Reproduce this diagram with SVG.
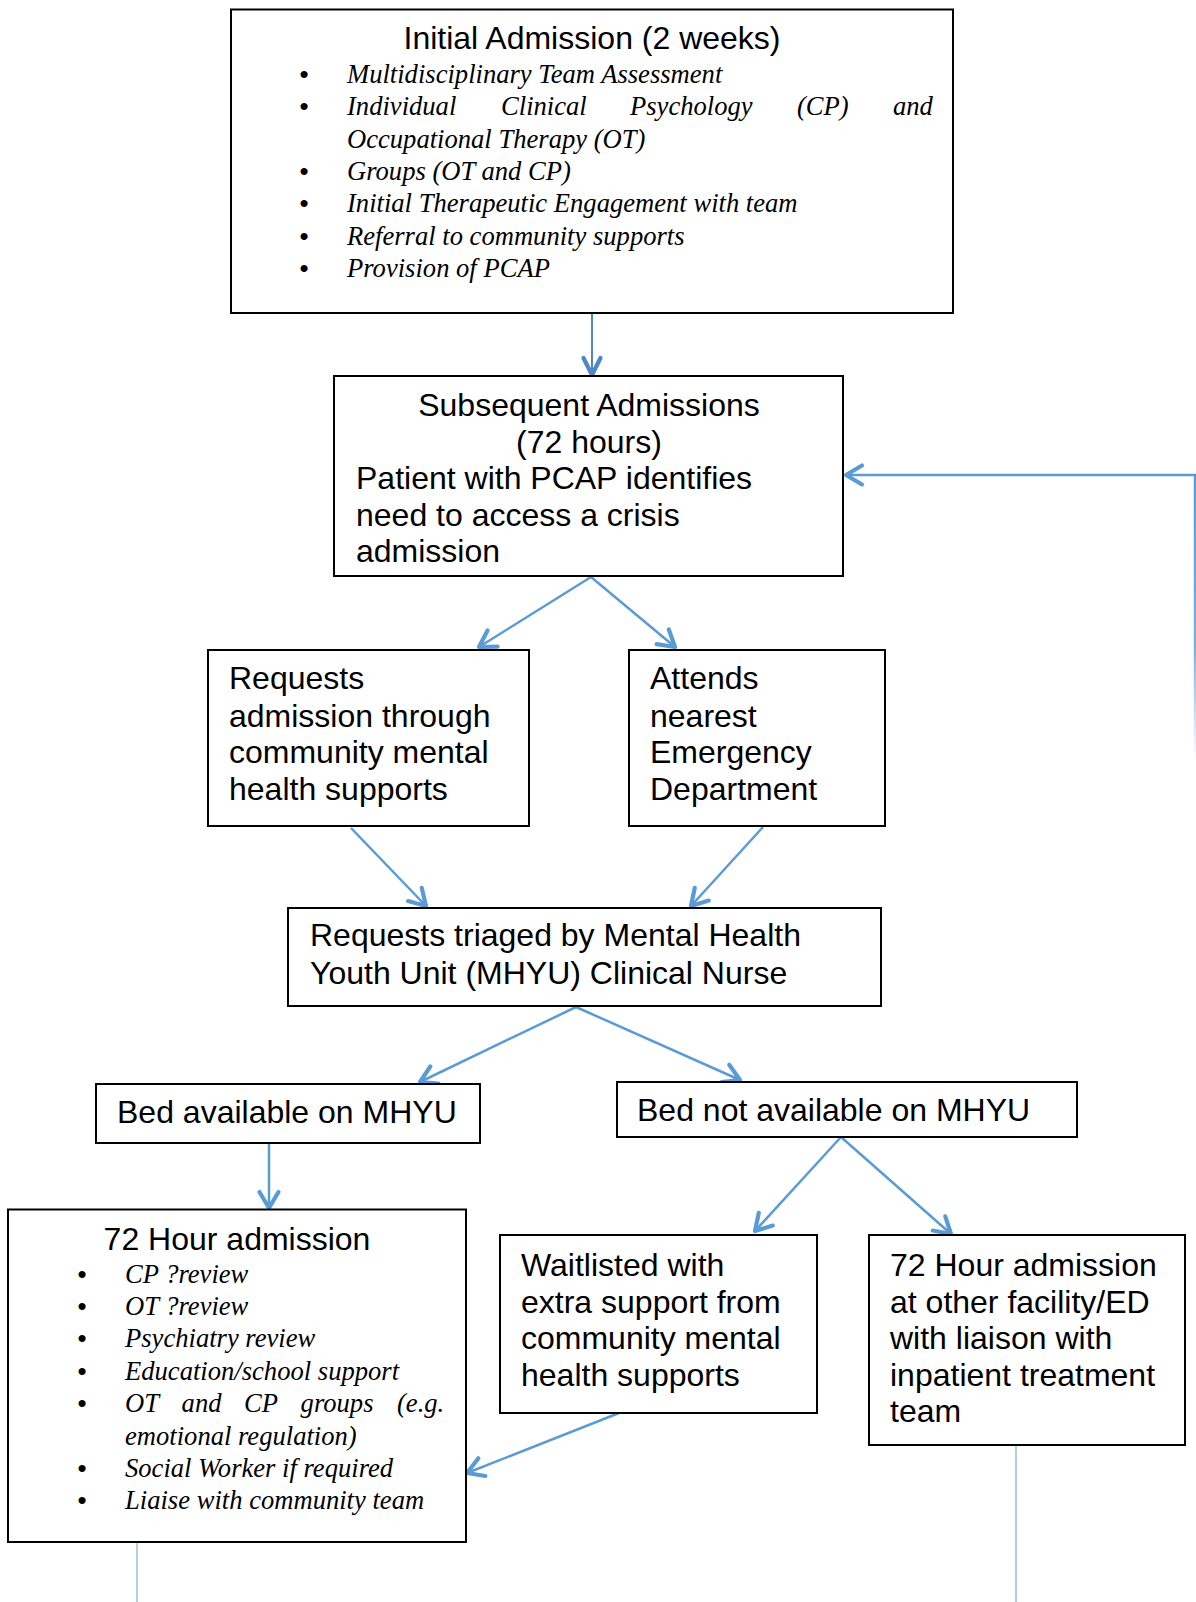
<svg xmlns="http://www.w3.org/2000/svg" width="1196" height="1602" viewBox="0 0 1196 1602">
<style>
.box{fill:#fff;stroke:#000;stroke-width:2}
.s{font-family:"Liberation Sans",Arial,sans-serif;font-size:32px;fill:#000}
.i{font-family:"Liberation Serif","Times New Roman",serif;font-style:italic;font-size:26.6px;fill:#000}
.b{font-family:"Liberation Sans",Arial,sans-serif;font-size:26px;fill:#000;text-anchor:middle}
.c{text-anchor:middle}
.arr{fill:none;stroke:#5b9bd5;stroke-width:2.5;marker-end:url(#ah)}
.thin{fill:none;stroke:#9dc3e6;stroke-width:1.6}
</style>
<defs>
<marker id="ah" markerUnits="userSpaceOnUse" markerWidth="30" markerHeight="30" viewBox="-20 -15 25 30" refX="0" refY="0" orient="auto">
<path d="M-16,-9.5 L0,0 L-16,9.5" fill="none" stroke="#5b9bd5" stroke-width="4.2" stroke-linecap="round" stroke-linejoin="round"/>
</marker>
<marker id="ah2" markerUnits="userSpaceOnUse" markerWidth="30" markerHeight="30" viewBox="-20 -15 25 30" refX="0" refY="0" orient="auto">
<path d="M-17,-8.5 L0,0 L-17,8.5" fill="none" stroke="#4f87c5" stroke-width="4.2" stroke-linecap="round" stroke-linejoin="round"/>
</marker>
<linearGradient id="fade" gradientUnits="userSpaceOnUse" x1="0" y1="475" x2="0" y2="760">
<stop offset="0" stop-color="#5b9bd5" stop-opacity="1"/>
<stop offset="0.6" stop-color="#5b9bd5" stop-opacity="0.8"/>
<stop offset="1" stop-color="#5b9bd5" stop-opacity="0"/>
</linearGradient>
</defs>

<g id="connectors">
<line x1="592" y1="313" x2="592" y2="375" fill="none" stroke="#4f87c5" stroke-width="2" marker-end="url(#ah2)"/>
<line class="arr" x1="591" y1="577" x2="479" y2="647"/>
<line class="arr" x1="591" y1="577" x2="675" y2="647"/>
<line class="arr" x1="351" y1="828" x2="426" y2="906"/>
<line class="arr" x1="763" y1="827" x2="691" y2="906"/>
<line class="arr" x1="576" y1="1007" x2="420" y2="1082"/>
<line class="arr" x1="576" y1="1007" x2="740" y2="1080"/>
<line class="arr" x1="269" y1="1143" x2="269" y2="1208"/>
<line class="arr" x1="841" y1="1137" x2="755" y2="1231"/>
<line class="arr" x1="841" y1="1137" x2="951" y2="1234"/>
<line class="arr" x1="619" y1="1413" x2="467" y2="1473"/>
<line class="arr" x1="1196" y1="475" x2="846" y2="475"/>
<line x1="1195" y1="474" x2="1195" y2="760" stroke="url(#fade)" stroke-width="2.5"/>
<line class="thin" x1="137" y1="1542" x2="137" y2="1602"/>
<line class="thin" x1="1016" y1="1445" x2="1016" y2="1602"/>
</g>

<g id="initial-admission">
<rect class="box" x="231" y="9.5" width="722" height="303.5"/>
<text class="s c" x="592" y="49">Initial Admission (2 weeks)</text>
<text class="b" x="304" y="83">•</text>
<text class="i" x="347" y="83">Multidisciplinary Team Assessment</text>
<text class="b" x="304" y="115.3">•</text>
<text class="i" y="115.3"><tspan x="347">Individual</tspan><tspan x="501">Clinical</tspan><tspan x="630">Psychology</tspan><tspan x="797">(CP)</tspan><tspan x="893">and</tspan></text>
<text class="i" x="347" y="147.6">Occupational Therapy (OT)</text>
<text class="b" x="304" y="179.9">•</text>
<text class="i" x="347" y="179.9">Groups (OT and CP)</text>
<text class="b" x="304" y="212.2">•</text>
<text class="i" x="347" y="212.2">Initial Therapeutic Engagement with team</text>
<text class="b" x="304" y="244.5">•</text>
<text class="i" x="347" y="244.5">Referral to community supports</text>
<text class="b" x="304" y="276.8">•</text>
<text class="i" x="347" y="276.8">Provision of PCAP</text>
</g>

<g id="subsequent-admissions">
<rect class="box" x="334" y="376" width="509" height="200"/>
<text class="s c" x="589" y="416">Subsequent Admissions</text>
<text class="s c" x="589" y="453">(72 hours)</text>
<text class="s" x="356" y="489">Patient with PCAP identifies</text>
<text class="s" x="356" y="525.5">need to access a crisis</text>
<text class="s" x="356" y="562">admission</text>
</g>

<g id="requests-admission">
<rect class="box" x="208" y="650" width="321" height="176"/>
<text class="s" x="229" y="689">Requests</text>
<text class="s" x="229" y="726.5">admission through</text>
<text class="s" x="229" y="763">community mental</text>
<text class="s" x="229" y="800">health supports</text>
</g>

<g id="attends-ed">
<rect class="box" x="629" y="650" width="256" height="176"/>
<text class="s" x="650" y="689">Attends</text>
<text class="s" x="650" y="726.5">nearest</text>
<text class="s" x="650" y="763">Emergency</text>
<text class="s" x="650" y="800">Department</text>
</g>

<g id="triage">
<rect class="box" x="288" y="908" width="593" height="98"/>
<text class="s" x="310" y="946">Requests triaged by Mental Health</text>
<text class="s" x="310" y="984">Youth Unit (MHYU) Clinical Nurse</text>
</g>

<g id="bed-available">
<rect class="box" x="96" y="1084" width="384" height="59"/>
<text class="s" x="117" y="1123">Bed available on MHYU</text>
</g>

<g id="bed-not-available">
<rect class="box" x="617" y="1082" width="460" height="55"/>
<text class="s" x="637" y="1121">Bed not available on MHYU</text>
</g>

<g id="hour72-admission">
<rect class="box" x="8" y="1209.5" width="458" height="332.5"/>
<text class="s c" x="237" y="1249.5">72 Hour admission</text>
<text class="b" x="82" y="1282.5">•</text>
<text class="i" x="125" y="1282.5">CP ?review</text>
<text class="b" x="82" y="1314.9">•</text>
<text class="i" x="125" y="1314.9">OT ?review</text>
<text class="b" x="82" y="1347.3">•</text>
<text class="i" x="125" y="1347.3">Psychiatry review</text>
<text class="b" x="82" y="1379.7">•</text>
<text class="i" x="125" y="1379.7">Education/school support</text>
<text class="b" x="82" y="1412.1">•</text>
<text class="i" y="1412.1"><tspan x="125">OT</tspan><tspan x="181.6">and</tspan><tspan x="244">CP</tspan><tspan x="300.6">groups</tspan><tspan x="397">(e.g.</tspan></text>
<text class="i" x="125" y="1444.5">emotional regulation)</text>
<text class="b" x="82" y="1476.9">•</text>
<text class="i" x="125" y="1476.9">Social Worker if required</text>
<text class="b" x="82" y="1509.3">•</text>
<text class="i" x="125" y="1509.3">Liaise with community team</text>
</g>

<g id="waitlisted">
<rect class="box" x="500" y="1235" width="317" height="178"/>
<text class="s" x="521" y="1276">Waitlisted with</text>
<text class="s" x="521" y="1312.5">extra support from</text>
<text class="s" x="521" y="1349">community mental</text>
<text class="s" x="521" y="1385.5">health supports</text>
</g>

<g id="other-facility">
<rect class="box" x="869" y="1235" width="316" height="210"/>
<text class="s" x="890" y="1276">72 Hour admission</text>
<text class="s" x="890" y="1312.5">at other facility/ED</text>
<text class="s" x="890" y="1349">with liaison with</text>
<text class="s" x="890" y="1385.5">inpatient treatment</text>
<text class="s" x="890" y="1422">team</text>
</g>
</svg>
